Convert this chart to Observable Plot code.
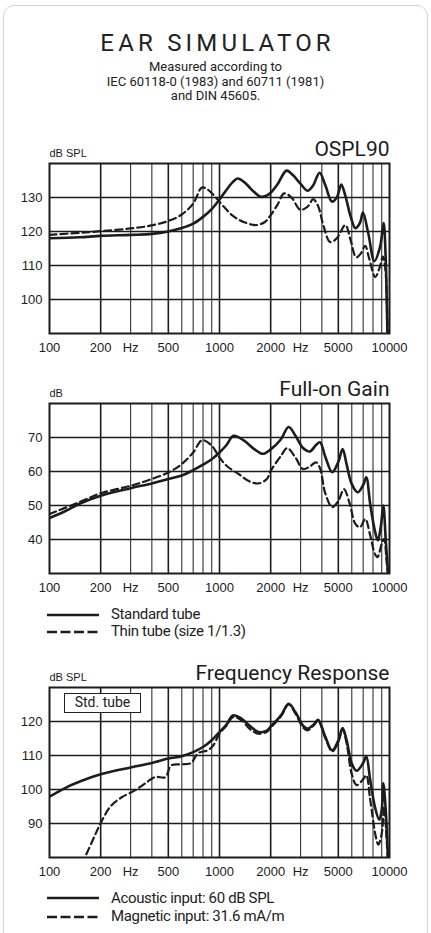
<!DOCTYPE html>
<html>
<head>
<meta charset="utf-8">
<script src="https://cdn.jsdelivr.net/npm/d3@7"></script>
<script src="https://cdn.jsdelivr.net/npm/@observablehq/plot@0.6"></script>
<style>
  html, body { margin: 0; padding: 0; background: #fff; width: 431px; height: 933px; overflow: hidden; }
  #card { position: absolute; left: 3px; top: 5px; width: 425px; height: 1000px; border: 1.5px solid #d4d4d4; border-radius: 11px; box-sizing: border-box; }
  .abs { position: absolute; }
  .hdr { font-family: Roboto, "Noto Sans", sans-serif; color: #222; text-align: center; left: 3px; width: 425px; }
  #title { top: 31px; font-size: 24px; line-height: 24px; letter-spacing: 4.2px; text-indent: 4.2px; }
  #sub { top: 60px; font-size: 13px; line-height: 14.5px; }
  .leg { font-family: Roboto, "Noto Sans", sans-serif; font-size: 15px; line-height: 18px; color: #222; letter-spacing: -0.35px; white-space: nowrap; }
  .sw { position: absolute; }
  #stdbox { left: 64px; top: 693px; width: 77px; height: 20px; border: 1.5px solid #222; background: #fff; box-sizing: border-box;
            font-family: Roboto, "Noto Sans", sans-serif; font-size: 14px; line-height: 17px; text-align: center; color: #222; }
</style>
</head>
<body>
<div id="card"></div>
<div id="title" class="abs hdr">EAR SIMULATOR</div>
<div id="sub" class="abs hdr">Measured according to<br>IEC 60118-0 (1983) and 60711 (1981)<br>and DIN 45605.</div>
<div id="c1" class="abs" style="left:0;top:123px"></div>
<div id="c2" class="abs" style="left:0;top:363px"></div>
<div id="c3" class="abs" style="left:0;top:647px"></div>
<div id="stdbox" class="abs">Std. tube</div>
<div id="legends"></div>
<script>
// ---------- axes / grid ----------
const xTicks = [100, 200, 300, 500, 1000, 2000, 3000, 5000, 10000];
const xTickLabels = ["100", "200", "Hz", "500", "1000", "2000", "Hz", "5000", "10000"];
const gridMinor = [300, 400, 600, 700, 800, 900, 3000, 4000, 6000, 7000, 8000, 9000];
const gridMajor = [200, 500, 1000, 2000, 5000];

// ---------- OSPL90 ----------
const osplTitle = "OSPL90";
const osplUnit = "dB SPL";
const osplYDomain = [90, 140];
const osplYTicks = [100, 110, 120, 130];
const osplStdHz = [100,150,200,300,400,500,600,700,800,900,1000,1100,1200,1280,1400,1600,1750,1900,2000,2200,2480,2700,3000,3300,3550,3880,4200,4580,4900,5200,5500,5900,6300,6700,6980,7500,8150,8800,9230,9500,9730,9850];
const osplStdDb = [118.0,118.3,118.7,119.0,119.3,120.0,121.0,122.3,124.3,126.6,129.4,132.3,134.6,135.6,134.5,131.6,130.2,130.6,131.4,134.0,137.9,136.6,134.0,132.0,133.5,137.3,133.5,128.8,130.0,133.8,130.5,124.5,121.0,122.5,125.6,119.5,111.3,115.5,122.5,112.0,90.0,84.0];
const osplThinHz = [100,150,200,300,400,500,600,700,787,850,950,1050,1200,1400,1650,1850,2000,2200,2400,2650,2990,3300,3560,3800,4100,4480,4900,5500,5900,6370,6800,7190,7600,8240,8700,9140,9450,9700,9850];
const osplThinDb = [119.0,119.6,120.1,120.9,121.8,123.1,125.0,128.2,132.9,132.4,130.0,127.5,124.6,122.7,121.9,122.8,124.8,128.0,131.2,130.0,126.4,127.3,129.5,127.5,121.5,116.9,118.0,121.9,117.5,112.4,113.6,115.8,112.0,106.6,109.0,112.6,109.0,95.0,85.0];

// ---------- Full-on Gain ----------
const gainTitle = "Full-on Gain";
const gainUnit = "dB";
const gainYDomain = [30, 80];
const gainYTicks = [40, 50, 60, 70];
const gainStdHz = [100,120,150,200,300,400,500,600,700,800,900,1000,1100,1210,1400,1600,1800,2000,2300,2550,2800,3100,3400,3700,3900,4200,4600,5000,5300,5600,6000,6500,7000,7300,7700,8200,8550,8900,9200,9500,9800,9900];
const gainStdDb = [46.3,48.0,50.5,52.9,55.1,56.5,57.8,58.8,60.4,62.0,63.6,65.6,67.8,70.5,69.0,66.6,65.2,66.5,69.5,73.1,70.5,66.9,65.9,67.8,68.6,64.2,59.8,62.8,66.6,62.0,56.3,53.9,56.0,58.3,50.4,42.6,39.7,44.0,50.0,40.0,30.0,26.0];
const gainThinHz = [100,150,200,300,400,500,600,700,790,900,1000,1100,1300,1500,1700,1900,2000,2300,2500,2800,3100,3400,3700,3900,4200,4600,5000,5400,5800,6300,6700,7200,7700,8200,8500,9000,9300,9600,9900];
const gainThinDb = [47.5,51.0,53.6,55.8,57.8,59.7,62.2,65.6,69.2,67.6,64.1,61.7,59.2,57.1,56.5,57.8,60.2,64.6,66.9,64.1,60.7,61.5,62.7,61.0,53.4,49.5,51.4,54.8,51.0,44.6,43.6,46.0,41.2,35.8,34.8,38.7,40.2,34.0,27.0];
const gainLegend = ["Standard tube", "Thin tube (size 1/1.3)"];

// ---------- Frequency Response ----------
const frTitle = "Frequency Response";
const frUnit = "dB SPL";
const frYDomain = [80, 130];
const frYTicks = [90, 100, 110, 120];
const frAcHz = [100,130,150,200,300,400,500,600,700,800,900,1000,1100,1200,1350,1500,1700,1900,2000,2300,2550,2800,3100,3300,3600,3800,4200,4600,5000,5300,5600,6000,6400,7000,7300,7700,8200,8700,9000,9200,9500,9800,9900];
const frAcDb = [97.9,101.0,102.3,104.5,106.5,107.8,109.1,109.8,111.0,112.5,114.5,116.9,119.1,121.8,120.8,118.8,116.9,117.3,118.5,121.8,125.2,122.7,118.8,117.9,119.2,120.5,115.4,111.5,114.4,118.1,114.4,107.6,105.5,107.8,109.8,102.8,95.0,91.1,94.0,101.8,94.0,80.0,76.0];
const frMagHz = [155,180,200,230,270,320,370,420,480,520,600,680,750,850,920,1000,1100,1200,1350,1500,1700,1900,2000,2300,2550,2800,3100,3300,3600,3800,4200,4600,5000,5300,5600,6000,6400,7000,7300,7700,8300,8600,9000,9300,9600,9850];
const frMagDb = [78.0,85.2,90.1,95.2,97.9,99.8,102.0,103.7,103.6,107.1,107.4,107.8,110.7,111.5,113.0,116.4,118.8,121.3,120.3,117.9,116.4,117.0,118.2,121.5,125.0,122.3,118.2,117.4,119.0,120.3,115.0,111.2,114.0,117.8,113.5,104.5,101.3,103.0,104.2,97.0,86.2,83.8,87.0,95.0,86.0,76.0];
const frLegend = ["Acoustic input: 60 dB SPL", "Magnetic input: 31.6 mA/m"];

const INK = "#1c1c1c";

function chart({title, unit, yDomain, yTicks, solidHz, solidDb, dashHz, dashDb}) {
  return Plot.plot({
    width: 431,
    height: 40 + 170 + 25,
    marginTop: 40, marginBottom: 25, marginLeft: 49, marginRight: 42,
    style: {fontFamily: "'Liberation Sans', Arial, sans-serif", fontSize: "13px", color: INK, background: "transparent", overflow: "visible"},
    x: {type: "log", domain: [100, 10000], ticks: xTicks, tickFormat: d => xTickLabels[xTicks.indexOf(d)], tickSize: 0, tickPadding: 9, label: null},
    y: {domain: yDomain, ticks: yTicks, tickSize: 0, tickPadding: 7, label: null},
    marks: [
      Plot.ruleX(gridMinor, {stroke: "#333", strokeWidth: 1.1}),
      Plot.ruleX(gridMajor, {stroke: INK, strokeWidth: 1.6}),
      Plot.ruleY(yTicks, {stroke: INK, strokeWidth: 1.7}),
      Plot.line(solidDb, {x: solidHz, y: solidDb, curve: "catmull-rom", stroke: INK, strokeWidth: 2.6, clip: true}),
      Plot.line(dashDb, {x: dashHz, y: dashDb, curve: "catmull-rom", stroke: INK, strokeWidth: 2.2, strokeDasharray: "7,4", clip: true}),
      Plot.frame({stroke: INK, strokeWidth: 2}),
      Plot.text([title], {text: d => d, frameAnchor: "top-right", textAnchor: "end", lineAnchor: "bottom", dy: -8, fontSize: 21, fontFamily: "Roboto, 'Noto Sans', sans-serif", fill: INK}),
      Plot.text([unit], {text: d => d, frameAnchor: "top-left", textAnchor: "start", lineAnchor: "bottom", dy: -7, fontSize: 11, fill: INK})
    ]
  });
}

document.getElementById("c1").append(chart({title: osplTitle, unit: osplUnit, yDomain: osplYDomain, yTicks: osplYTicks, solidHz: osplStdHz, solidDb: osplStdDb, dashHz: osplThinHz, dashDb: osplThinDb}));
document.getElementById("c2").append(chart({title: gainTitle, unit: gainUnit, yDomain: gainYDomain, yTicks: gainYTicks, solidHz: gainStdHz, solidDb: gainStdDb, dashHz: gainThinHz, dashDb: gainThinDb}));
document.getElementById("c3").append(chart({title: frTitle, unit: frUnit, yDomain: frYDomain, yTicks: frYTicks, solidHz: frAcHz, solidDb: frAcDb, dashHz: frMagHz, dashDb: frMagDb}));

// ---------- legends ----------
function legendRow(label, dashed, lineY, textTop) {
  const ns = "http://www.w3.org/2000/svg";
  const svg = document.createElementNS(ns, "svg");
  svg.setAttribute("width", 54); svg.setAttribute("height", 6);
  svg.setAttribute("class", "sw");
  svg.style.left = "47px"; svg.style.top = (lineY - 3) + "px";
  const ln = document.createElementNS(ns, "line");
  ln.setAttribute("x1", 0); ln.setAttribute("x2", 52); ln.setAttribute("y1", 3); ln.setAttribute("y2", 3);
  ln.setAttribute("stroke", INK); ln.setAttribute("stroke-width", 2.6);
  if (dashed) ln.setAttribute("stroke-dasharray", "10,3.5");
  svg.append(ln);
  const t = document.createElement("div");
  t.className = "abs leg";
  t.style.left = "111px"; t.style.top = textTop + "px";
  t.textContent = label;
  document.getElementById("legends").append(svg, t);
}
legendRow(gainLegend[0], false, 615, 605);
legendRow(gainLegend[1], true, 632, 622);
legendRow(frLegend[0], false, 898, 889);
legendRow(frLegend[1], true, 917, 907);
</script>
</body>
</html>
